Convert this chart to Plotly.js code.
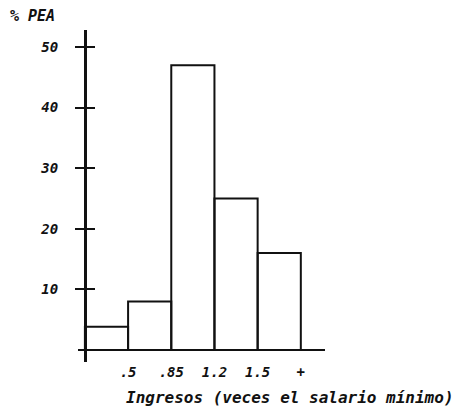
<!DOCTYPE html>
<html>
<head>
<meta charset="utf-8">
<script src="https://cdn.plot.ly/plotly-3.0.1.min.js"></script>
<style>html,body{margin:0;padding:0;background:#fff;}#chart{width:457px;height:415px;}</style>
</head>
<body>
<div id="chart"></div>
<script>
// Income bins (multiples of minimum wage) and % of economically active population
const bins = ["0-.5", ".5-.85", ".85-1.2", "1.2-1.5", "1.5+"];
const pea = [3.8, 8, 47, 25, 16];
const xTickLabels = [".5", ".85", "1.2", "1.5", "+"];
const yTickVals = [10, 20, 30, 40, 50];

const xPos = bins.map((b, i) => i + 0.5);
const xTickPos = xTickLabels.map((t, i) => i + 1);

const MONO = "DejaVu Sans Mono";
const tickFont = {family: MONO, size: 14, color: "#111", style: "italic", weight: 700};

const trace = {
  type: "bar",
  x: xPos,
  y: pea,
  width: 1,
  text: bins,
  hoverinfo: "text+y",
  textposition: "none",
  marker: {color: "rgba(255,255,255,0)", line: {color: "#111", width: 2}},
  showlegend: false
};
const ghost = {type: "scatter", x: [0], y: [0], yaxis: "y2", mode: "markers", marker: {opacity: 0}, showlegend: false, hoverinfo: "skip"};

const layout = {
  width: 457, height: 415,
  margin: {l: 78, r: 132, t: 30, b: 53},
  paper_bgcolor: "#fff", plot_bgcolor: "#fff",
  bargap: 0,
  xaxis: {
    range: [-0.16, 5.56],
    showgrid: false, zeroline: false, showline: false,
    ticks: "", tickmode: "array", tickvals: xTickPos, ticktext: xTickLabels,
    tickfont: {family: MONO, size: 14, color: "#111", style: "italic", weight: 700}
  },
  yaxis: {
    range: [-2, 52.8],
    anchor: "free", position: 7 / 247,
    showgrid: false,
    zeroline: true, zerolinecolor: "#111", zerolinewidth: 2.5,
    showline: true, linecolor: "#111", linewidth: 2.5,
    ticks: "outside", ticklen: 9, tickwidth: 2, tickcolor: "#111",
    tickmode: "array", tickvals: yTickVals, ticktext: yTickVals.map(String),
    ticklabelstandoff: 14,
    tickfont: tickFont
  },
  yaxis2: {
    overlaying: "y", matches: "y", anchor: "free", position: 7 / 247,
    showgrid: false, zeroline: false, showline: false,
    ticks: "inside", ticklen: 9, tickwidth: 2, tickcolor: "#111",
    tickmode: "array", tickvals: yTickVals, showticklabels: false
  },
  annotations: [
    {text: "% PEA", xref: "paper", yref: "paper", x: -70 / 247, y: 1 + 14 / 332, xanchor: "left", yanchor: "middle",
     showarrow: false, font: {family: MONO, size: 15, color: "#111", style: "italic", weight: 700}},
    {text: "Ingresos (veces el salario mínimo)", xref: "paper", yref: "paper", x: (290 - 78) / 247, y: -(397 - 362) / 332,
     xanchor: "center", yanchor: "middle", showarrow: false,
     font: {family: MONO, size: 16, color: "#111", style: "italic", weight: 700}}
  ]
};

Plotly.newPlot("chart", [trace, ghost], layout, {displayModeBar: false, staticPlot: true});
</script>
</body>
</html>
